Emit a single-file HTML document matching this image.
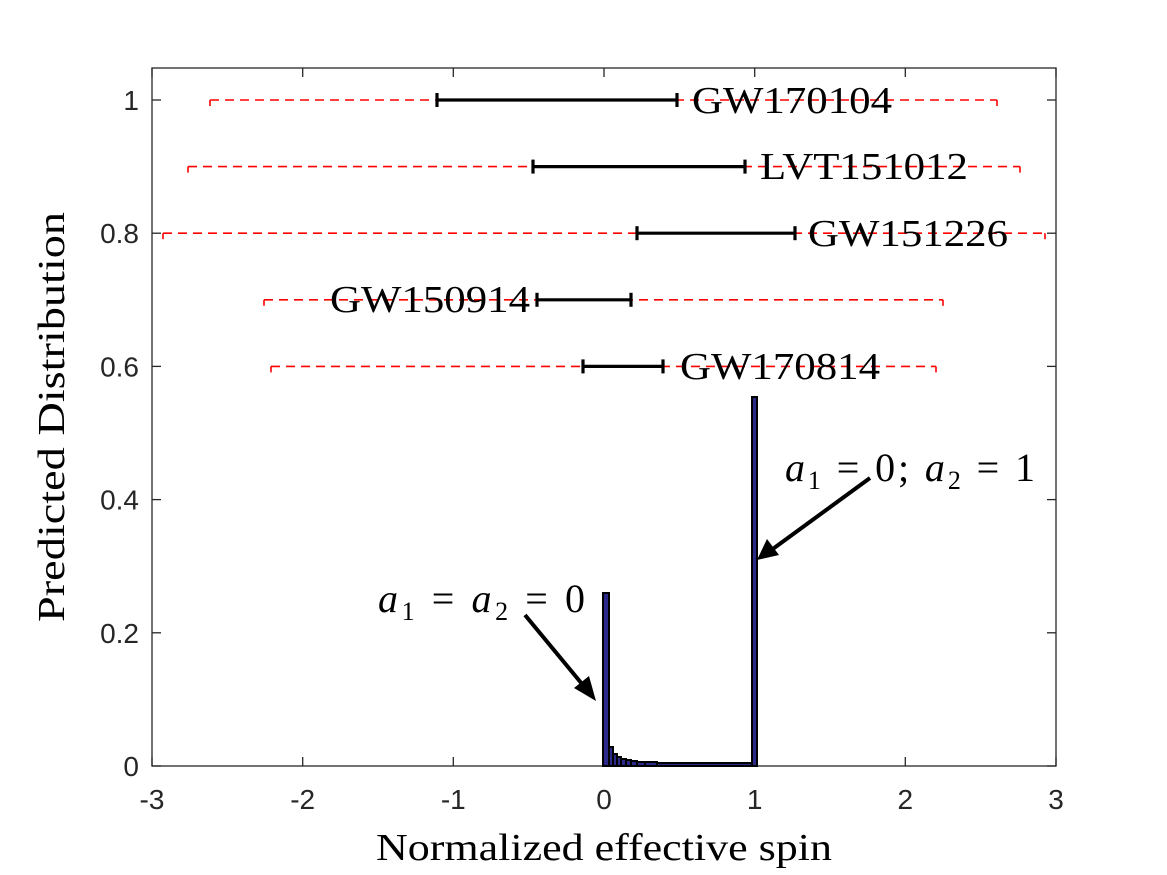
<!DOCTYPE html>
<html><head><meta charset="utf-8"><style>
html,body{margin:0;padding:0;background:#fff;}
svg{display:block;}
.t{font-family:"Liberation Sans",sans-serif;font-size:28px;fill:#262626;}
.s{font-family:"Liberation Serif",serif;font-size:38px;fill:#000;}
.m{font-family:"Liberation Serif",serif;font-size:40px;fill:#000;font-style:italic;}
</style></head><body>
<svg width="1167" height="875" viewBox="0 0 1167 875" xmlns="http://www.w3.org/2000/svg">
<rect width="1167" height="875" fill="#fff"/>
<rect x="152" y="68" width="904" height="698" fill="none" stroke="#262626" stroke-width="1.3"/>
<g stroke="#262626" stroke-width="1.3">
<line x1="152" y1="766" x2="152" y2="757"/><line x1="302.7" y1="766" x2="302.7" y2="757"/><line x1="453.3" y1="766" x2="453.3" y2="757"/><line x1="604" y1="766" x2="604" y2="757"/><line x1="754.7" y1="766" x2="754.7" y2="757"/><line x1="905.3" y1="766" x2="905.3" y2="757"/><line x1="1056" y1="766" x2="1056" y2="757"/>
<line x1="152" y1="68" x2="152" y2="77"/><line x1="302.7" y1="68" x2="302.7" y2="77"/><line x1="453.3" y1="68" x2="453.3" y2="77"/><line x1="604" y1="68" x2="604" y2="77"/><line x1="754.7" y1="68" x2="754.7" y2="77"/><line x1="905.3" y1="68" x2="905.3" y2="77"/><line x1="1056" y1="68" x2="1056" y2="77"/>
<line x1="152" y1="766" x2="161" y2="766"/><line x1="152" y1="632.8" x2="161" y2="632.8"/><line x1="152" y1="499.6" x2="161" y2="499.6"/><line x1="152" y1="366.4" x2="161" y2="366.4"/><line x1="152" y1="233.2" x2="161" y2="233.2"/><line x1="152" y1="100" x2="161" y2="100"/>
<line x1="1056" y1="766" x2="1047" y2="766"/><line x1="1056" y1="632.8" x2="1047" y2="632.8"/><line x1="1056" y1="499.6" x2="1047" y2="499.6"/><line x1="1056" y1="366.4" x2="1047" y2="366.4"/><line x1="1056" y1="233.2" x2="1047" y2="233.2"/><line x1="1056" y1="100" x2="1047" y2="100"/>
</g>
<g class="t" text-anchor="middle">
<text x="152" y="809">-3</text><text x="302.7" y="809">-2</text><text x="453.3" y="809">-1</text><text x="604" y="809">0</text><text x="754.7" y="809">1</text><text x="905.3" y="809">2</text><text x="1056" y="809">3</text>
</g>
<g class="t" text-anchor="end">
<text x="139" y="776">0</text><text x="139" y="642.8">0.2</text><text x="139" y="509.6">0.4</text><text x="139" y="376.4">0.6</text><text x="139" y="243.2">0.8</text><text x="139" y="110">1</text>
</g>
<text class="s" x="604" y="860" text-anchor="middle" font-size="35" textLength="456" lengthAdjust="spacingAndGlyphs">Normalized effective spin</text>
<text class="s" transform="translate(64,417) rotate(-90)" text-anchor="middle" font-size="35" textLength="410" lengthAdjust="spacingAndGlyphs">Predicted Distribution</text>
<g fill="#2b2a8a" stroke="#000" stroke-width="2">
<rect x="603" y="593" width="6" height="173"/>
<rect x="609" y="747" width="4" height="19"/>
<rect x="613" y="754" width="4" height="12"/>
<rect x="617" y="757" width="4" height="9"/>
<rect x="621" y="759" width="5" height="7"/>
<rect x="626" y="760" width="5" height="6"/>
<rect x="631" y="761" width="6" height="5"/>
<rect x="637" y="762" width="8" height="4"/>
<rect x="645" y="762" width="12" height="4"/>
<rect x="657" y="763" width="96" height="3"/>
<rect x="752" y="397" width="5" height="369"/>
</g>
<g stroke="#ff0000" stroke-width="1.6" fill="none" stroke-dasharray="9,6">
<line x1="210" y1="100" x2="997" y2="100"/>
<line x1="188" y1="166.6" x2="1020" y2="166.6"/>
<line x1="163" y1="233.2" x2="1045" y2="233.2"/>
<line x1="264" y1="299.8" x2="943" y2="299.8"/>
<line x1="271" y1="366.4" x2="936" y2="366.4"/>
</g>
<g stroke="#ff0000" stroke-width="1.6">
<line x1="210" y1="100" x2="210" y2="106"/><line x1="997" y1="100" x2="997" y2="106"/>
<line x1="188" y1="166.6" x2="188" y2="172.6"/><line x1="1020" y1="166.6" x2="1020" y2="172.6"/>
<line x1="163" y1="233.2" x2="163" y2="239.2"/><line x1="1045" y1="233.2" x2="1045" y2="239.2"/>
<line x1="264" y1="299.8" x2="264" y2="305.8"/><line x1="943" y1="299.8" x2="943" y2="305.8"/>
<line x1="271" y1="366.4" x2="271" y2="372.4"/><line x1="936" y1="366.4" x2="936" y2="372.4"/>
</g>
<g stroke="#000" stroke-width="3.2">
<line x1="437" y1="100" x2="677" y2="100"/><line x1="437" y1="93" x2="437" y2="107"/><line x1="677" y1="93" x2="677" y2="107"/>
<line x1="533" y1="166.6" x2="745" y2="166.6"/><line x1="533" y1="159.6" x2="533" y2="173.6"/><line x1="745" y1="159.6" x2="745" y2="173.6"/>
<line x1="637" y1="233.2" x2="795" y2="233.2"/><line x1="637" y1="226.2" x2="637" y2="240.2"/><line x1="795" y1="226.2" x2="795" y2="240.2"/>
<line x1="537" y1="299.8" x2="631" y2="299.8"/><line x1="537" y1="292.8" x2="537" y2="306.8"/><line x1="631" y1="292.8" x2="631" y2="306.8"/>
<line x1="583" y1="366.4" x2="663" y2="366.4"/><line x1="583" y1="359.4" x2="583" y2="373.4"/><line x1="663" y1="359.4" x2="663" y2="373.4"/>
</g>
<g class="s">
<text x="692" y="113" textLength="200" lengthAdjust="spacingAndGlyphs">GW170104</text>
<text x="760" y="179" textLength="208" lengthAdjust="spacingAndGlyphs">LVT151012</text>
<text x="808" y="246" textLength="200" lengthAdjust="spacingAndGlyphs">GW151226</text>
<text x="330" y="312" textLength="200" lengthAdjust="spacingAndGlyphs">GW150914</text>
<text x="680" y="379" textLength="200" lengthAdjust="spacingAndGlyphs">GW170814</text>
</g>
<text class="m" x="378" y="612" textLength="207" lengthAdjust="spacing">a<tspan font-style="normal" font-size="26" dy="8">1</tspan><tspan font-style="normal" dy="-8"> = </tspan>a<tspan font-style="normal" font-size="26" dy="8">2</tspan><tspan font-style="normal" dy="-8"> = 0</tspan></text>
<text class="m" x="785" y="481" textLength="250" lengthAdjust="spacing">a<tspan font-style="normal" font-size="26" dy="8">1</tspan><tspan font-style="normal" dy="-8"> = 0; </tspan>a<tspan font-style="normal" font-size="26" dy="8">2</tspan><tspan font-style="normal" dy="-8"> = 1</tspan></text>
<g stroke="#000" stroke-width="4">
<line x1="525" y1="615" x2="587" y2="690"/>
<line x1="870" y1="478" x2="770" y2="551"/>
</g>
<polygon points="596,701 574,688 589,676" fill="#000"/>
<polygon points="757,560 767,539 779,555" fill="#000"/>
</svg>
</body></html>
